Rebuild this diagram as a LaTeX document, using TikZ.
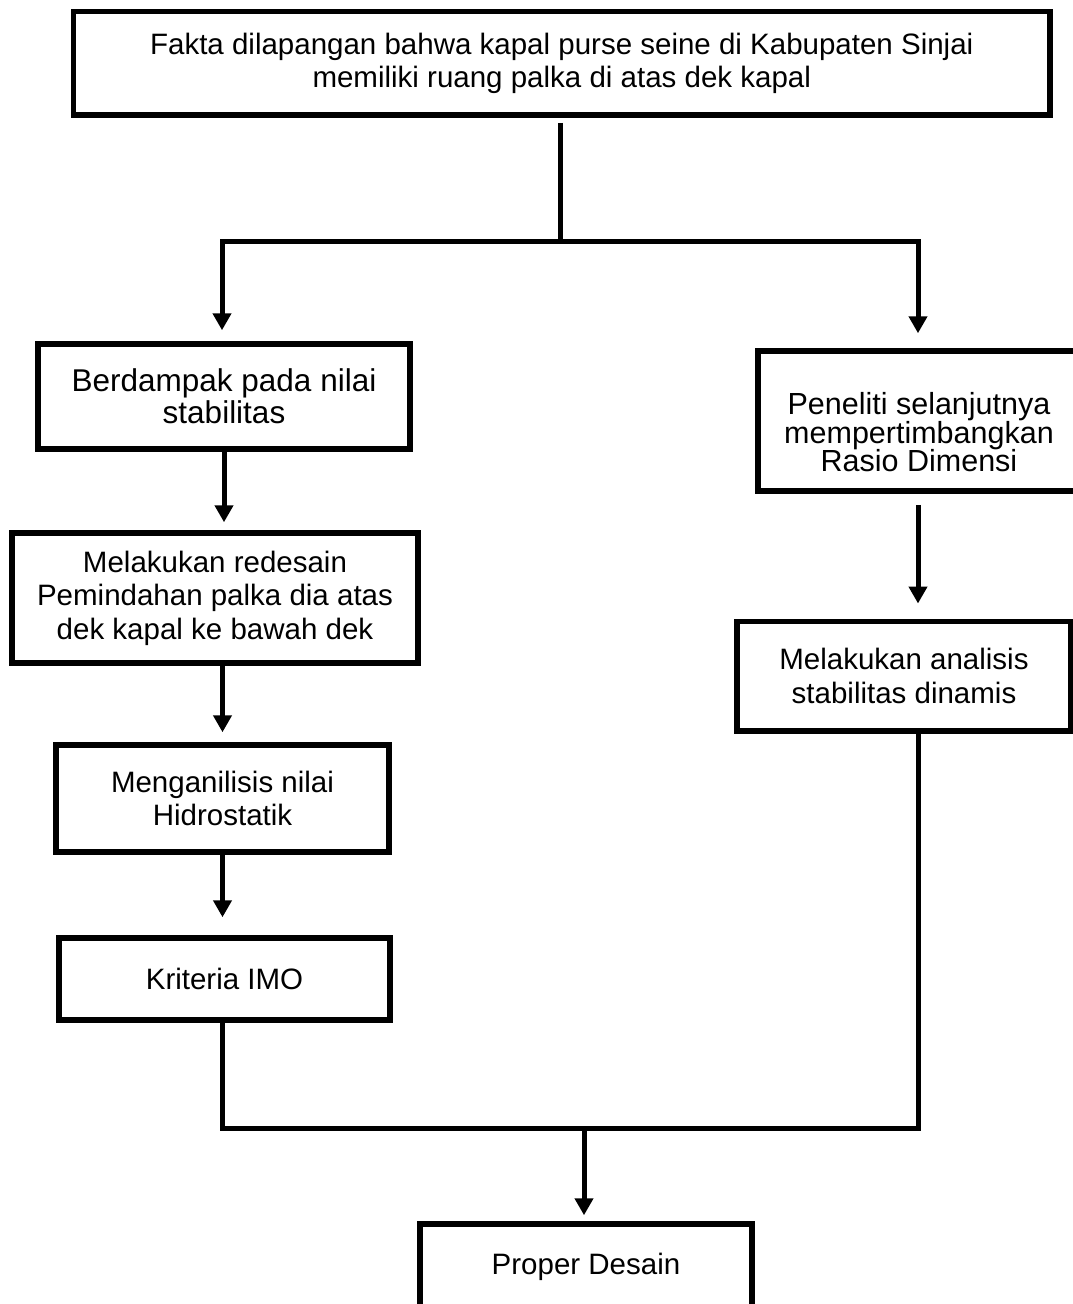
\documentclass[tikz,border=0pt]{standalone}
\usepackage{fontspec}
\setmainfont{Liberation Sans}
\usetikzlibrary{arrows.meta}
\tikzset{
    stepbox/.style={draw, line width=5.5pt, align=center, inner sep=0pt,
        font=\fontsize{29.5}{33.5}\selectfont},
    link/.style={line width=5pt, line join=miter},
    flow/.style={line width=5pt, line join=miter, -{Triangle[length=17pt,width=18pt]}}
}
\newcommand{\flowbox}[6]{
    % name, centre x, centre y, width, height, text
    \node[stepbox, minimum width=#4, minimum height=#5] (#1) at (#2,#3) {#6};
}
\begin{document}
\begin{tikzpicture}[x=1pt, y=-1pt]
    \useasboundingbox (0,0) rectangle (1073,1304);

    % Top box
    \flowbox{fakta}{561.75}{63.25}{976.5pt}{103.5pt}{Fakta dilapangan bahwa kapal purse seine di Kabupaten Sinjai\\memiliki ruang palka di atas dek kapal}

    % Left column
    \node[stepbox, minimum width=372pt, minimum height=105pt,
        font=\fontsize{31.5}{32}\selectfont] (dampak) at (224,396.5)
        {Berdampak pada nilai\\stabilitas};
    \flowbox{redesain}{215}{598}{406pt}{130pt}{Melakukan redesain\\Pemindahan palka dia atas\\dek kapal ke bawah dek}
    \flowbox{hidro}{222.5}{798.5}{333pt}{107pt}{Menganilisis nilai\\Hidrostatik}
    \flowbox{imo}{224.5}{979}{331pt}{82pt}{Kriteria IMO}

    % Right column
    \node[stepbox, minimum width=322pt, minimum height=140pt,
        font=\fontsize{30.5}{28.5}\selectfont] (rasio) at (919,421)
        {\rule{0pt}{45pt}Peneliti selanjutnya\\mempertimbangkan\\Rasio Dimensi};
    \flowbox{dinamis}{904}{676}{334pt}{109.5pt}{Melakukan analisis\\stabilitas dinamis}

    % Bottom box
    \flowbox{desain}{586}{1267}{332pt}{86pt}{Proper Desain}

    % Split below the top box
    \coordinate (fork) at (560,241);
    \coordinate (forkL) at (222,241);
    \coordinate (forkR) at (918,241);
    \draw[link, shorten <=5pt] (fork |- fakta.south) -- (fork);
    \draw[flow, shorten >=11pt] (fork) -| (forkL |- dampak.north);
    \draw[flow, shorten >=15pt] (fork) -| (forkR |- rasio.north);

    % Arrows down the left column
    \draw[flow, shorten >=8pt] (dampak.south) -- (dampak.south |- redesain.north);
    \draw[flow, shorten >=10pt] (hidro.north |- redesain.south) -- (hidro.north);
    \draw[flow, shorten >=18pt] (hidro.south) -- (hidro.south |- imo.north);

    % Arrow down the right column
    \draw[flow, shorten <=11pt, shorten >=15pt] (forkR |- rasio.south) -- (forkR |- dinamis.north);

    % Join both columns
    \coordinate (joinL) at (222,1128);
    \coordinate (joinR) at (918,1128);
    \coordinate (join) at (584,1128);
    \draw[link] (joinL |- imo.south) -- (joinL) -- (joinR) -- (joinR |- dinamis.south);
    \draw[flow, shorten >=6pt] (join) -- (join |- desain.north);
\end{tikzpicture}
\end{document}
